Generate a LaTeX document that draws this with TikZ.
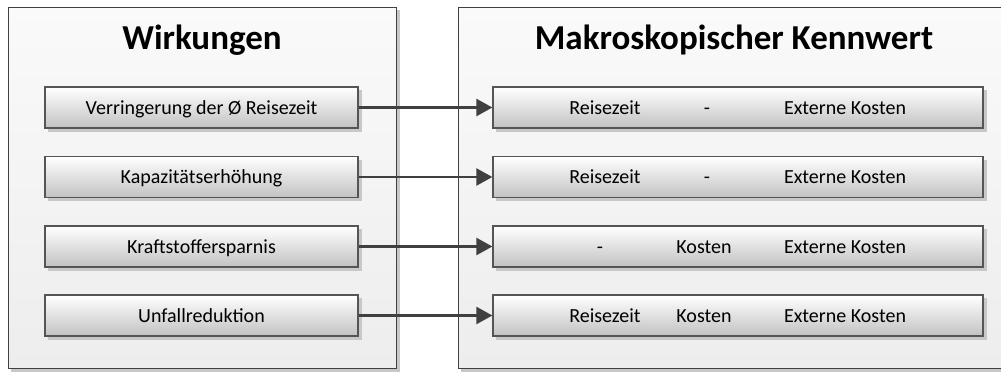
\documentclass[tikz,border=0pt]{standalone}
\usepackage{fontspec}
\setmainfont{Carlito}
\usetikzlibrary{arrows.meta}
\definecolor{edgegray}{HTML}{404040}
\definecolor{boxedge}{HTML}{555555}
\definecolor{shadowgray}{HTML}{C8C8C8}
\definecolor{boxbottom}{HTML}{C2C2C2}
\definecolor{paneltop}{HTML}{FAFAFA}
\definecolor{panelbottom}{HTML}{EDEDED}
\tikzset{
  panel/.style={draw=edgegray, line width=1pt, top color=paneltop, bottom color=panelbottom},
  shadowbox/.style={fill=shadowgray, draw=none},
  itembox/.style={draw=boxedge, line width=1.3pt, top color=white, bottom color=boxbottom, minimum height=41pt, inner sep=0pt},
  leftbox/.style={itembox, minimum width=313pt},
  rightbox/.style={itembox, minimum width=490pt},
  boxtext/.style={font=\fontsize{20pt}{22pt}\selectfont, anchor=base, inner sep=0pt},
  titletext/.style={font=\fontsize{35pt}{38pt}\selectfont\bfseries, anchor=base, inner sep=0pt},
  link/.style={draw=edgegray, line width=2.5pt, -{Triangle[length=16pt, width=17pt]}},
}
\begin{document}
\begin{tikzpicture}[x=1pt, y=-1pt]
\useasboundingbox (0,0) rectangle (1001,372);
\clip (0,0) rectangle (1001,372);
\fill[white] (0,0) rectangle (1001,372);
% panels with shadows
\fill[shadowbox] (11,10) rectangle (400,372);
\path[panel] (8,7) rectangle (396,368);
\fill[shadowbox] (461,10) rectangle (1010,372);
\path[panel] (458,7) rectangle (1010,368);
% titles
\node[titletext] (t1) at (202,49) {Wirkungen};
\node[titletext] (t2) at (734,49) {Makroskopischer Kennwert};
% box shadows
\foreach \yc in {107.5,177,246.5,315.5} {
  \fill[shadowgray] (48,\yc-17.5) rectangle (362,\yc+24);
  \fill[shadowgray] (496,\yc-17.5) rectangle (987,\yc+24);
}
% left boxes
\node[leftbox] (l1) at (201.5,107.5) {};
\node[leftbox] (l2) at (201.5,177) {};
\node[leftbox] (l3) at (201.5,246.5) {};
\node[leftbox] (l4) at (201.5,315.5) {};
% right boxes
\node[rightbox] (r1) at (738,107.5) {};
\node[rightbox] (r2) at (738,177) {};
\node[rightbox] (r3) at (738,246.5) {};
\node[rightbox] (r4) at (738,315.5) {};
% left texts
\node[boxtext] (lt1) at (201.5,114) {Verringerung der Ø Reisezeit};
\node[boxtext] (lt2) at (201.5,183.5) {Kapazitätserhöhung};
\node[boxtext] (lt3) at (201.5,253) {Kraftstoffersparnis};
\node[boxtext] (lt4) at (201.5,322) {Unfallreduktion};
% right texts
\node[boxtext] (a1) at (605,114) {Reisezeit};
\node[boxtext] (b1) at (707,114) {-};
\node[boxtext] (c1) at (845,114) {Externe Kosten};
\node[boxtext] (a2) at (605,183.5) {Reisezeit};
\node[boxtext] (b2) at (707,183.5) {-};
\node[boxtext] (c2) at (845,183.5) {Externe Kosten};
\node[boxtext] (a3) at (600,253) {-};
\node[boxtext] (b3) at (704,253) {Kosten};
\node[boxtext] (c3) at (845,253) {Externe Kosten};
\node[boxtext] (a4) at (605,322) {Reisezeit};
\node[boxtext] (b4) at (704,322) {Kosten};
\node[boxtext] (c4) at (845,322) {Externe Kosten};
% connectors
\draw[link] (l1.east) -- (r1.west);
\draw[link] (l2.east) -- (r2.west);
\draw[link] (l3.east) -- (r3.west);
\draw[link] (l4.east) -- (r4.west);
\end{tikzpicture}
\end{document}
